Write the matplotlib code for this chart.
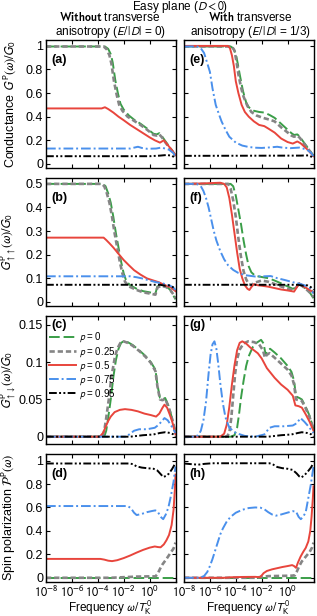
import numpy as np
import matplotlib
matplotlib.use("Agg")
import matplotlib.pyplot as plt

plt.rcParams['font.family'] = ['Liberation Sans', 'DejaVu Sans']
plt.rcParams['mathtext.fontset'] = 'stixsans'

# curves: (log10(omega/T_K^0), value)
# (a) conductance, E/|D| = 0
a_p0 = [(-8, 0.995), (-3.45, 0.995), (-3.2, 0.975), (-3.0, 0.93), (-2.85, 0.86), (-2.65, 0.71), (-2.45, 0.6),
        (-2.25, 0.51), (-2.0, 0.46), (-1.6, 0.41), (-1.2, 0.375), (-0.7, 0.34), (-0.2, 0.3), (0.3, 0.255),
        (0.55, 0.25), (0.75, 0.26), (0.95, 0.235), (1.2, 0.195), (1.5, 0.15), (1.8, 0.105), (2.0, 0.07)]
a_p25 = [(-8, 0.995), (-3.55, 0.995), (-3.3, 0.97), (-3.1, 0.92), (-2.95, 0.85), (-2.75, 0.7), (-2.55, 0.59),
         (-2.35, 0.5), (-2.1, 0.45), (-1.7, 0.4), (-1.2, 0.365), (-0.7, 0.33), (-0.2, 0.29), (0.3, 0.245),
         (0.55, 0.24), (0.75, 0.25), (0.95, 0.225), (1.2, 0.185), (1.5, 0.14), (1.8, 0.1), (2.0, 0.065)]
a_p50 = [(-8, 0.47), (-3.7, 0.47), (-3.45, 0.48), (-3.2, 0.465), (-2.8, 0.435), (-2.4, 0.4), (-2.0, 0.37),
         (-1.5, 0.33), (-1.0, 0.295), (-0.5, 0.26), (0, 0.225), (0.4, 0.2), (0.8, 0.18), (1.1, 0.2),
         (1.4, 0.16), (1.7, 0.12), (2.0, 0.075)]
a_p75 = [(-8, 0.13), (-1.5, 0.13), (-1.1, 0.14), (-0.9, 0.145), (-0.6, 0.135), (-0.2, 0.128), (0.5, 0.13),
         (0.9, 0.138), (1.2, 0.13), (1.5, 0.12), (1.8, 0.095), (2.0, 0.065)]
a_p95 = [(-8, 0.065), (0.0, 0.065), (0.8, 0.07), (1.3, 0.075), (1.7, 0.07), (2.0, 0.05)]

# (e) conductance, E/|D| = 1/3
e_p0 = [(-8, 0.995), (-4.4, 0.995), (-4.2, 0.98), (-4.0, 0.935), (-3.85, 0.85), (-3.7, 0.76), (-3.45, 0.62),
        (-3.2, 0.52), (-3.0, 0.48), (-2.6, 0.45), (-2.2, 0.44), (-1.8, 0.435), (-1.4, 0.415), (-1.0, 0.39),
        (-0.5, 0.34), (-0.1, 0.3), (0.3, 0.26), (0.5, 0.245), (0.75, 0.25), (0.95, 0.23), (1.2, 0.19),
        (1.5, 0.145), (1.8, 0.1), (2.0, 0.07)]
e_p25 = [(-8, 0.995), (-4.3, 0.995), (-4.1, 0.96), (-3.95, 0.87), (-3.8, 0.76), (-3.6, 0.65), (-3.4, 0.57),
         (-3.1, 0.49), (-2.8, 0.44), (-2.4, 0.41), (-1.9, 0.39), (-1.4, 0.375), (-1.0, 0.36), (-0.5, 0.31),
         (-0.1, 0.275), (0.3, 0.24), (0.5, 0.23), (0.75, 0.24), (0.95, 0.22), (1.2, 0.18), (1.5, 0.14),
         (1.8, 0.095), (2.0, 0.065)]
e_p50 = [(-8, 1.0), (-4.6, 1.0), (-4.45, 0.98), (-4.3, 0.92), (-4.15, 0.83), (-4.0, 0.7), (-3.8, 0.6),
         (-3.55, 0.5), (-3.3, 0.44), (-3.0, 0.4), (-2.6, 0.36), (-2.2, 0.33), (-1.8, 0.32), (-1.5, 0.3),
         (-1.0, 0.265), (-0.5, 0.215), (0.0, 0.185), (0.4, 0.172), (0.75, 0.19), (1.0, 0.175), (1.2, 0.155),
         (1.5, 0.125), (1.8, 0.09), (2.0, 0.065)]
e_p75 = [(-8, 0.995), (-7.0, 0.995), (-6.7, 0.98), (-6.45, 0.94), (-6.25, 0.87), (-6.0, 0.78), (-5.8, 0.64),
         (-5.55, 0.5), (-5.3, 0.42), (-5.1, 0.36), (-4.8, 0.29), (-4.5, 0.23), (-4.0, 0.18), (-3.5, 0.155),
         (-3.0, 0.143), (-2.5, 0.137), (-2.0, 0.135), (-1.3, 0.14), (-0.8, 0.145), (-0.4, 0.138), (0.2, 0.133),
         (0.9, 0.138), (1.2, 0.13), (1.5, 0.12), (1.8, 0.095), (2.0, 0.065)]
e_p95 = [(-8, 0.068), (1.0, 0.07), (1.6, 0.072), (1.85, 0.06), (2.0, 0.05)]

# (b) G_upup, E/|D| = 0
b_p0 = [(-8, 0.5), (-3.6, 0.5), (-3.4, 0.49), (-3.2, 0.46), (-3.0, 0.42), (-2.8, 0.36), (-2.6, 0.29),
        (-2.4, 0.23), (-2.2, 0.17), (-2.0, 0.12), (-1.8, 0.088), (-1.5, 0.07), (-1.0, 0.055), (-0.5, 0.045),
        (0.0, 0.04), (0.45, 0.035), (0.6, 0.065), (0.9, 0.07), (1.3, 0.065), (1.6, 0.05), (1.85, 0.025),
        (2.0, 0.01)]
b_p25 = [(-8, 0.5), (-3.7, 0.5), (-3.5, 0.49), (-3.3, 0.46), (-3.1, 0.42), (-2.9, 0.36), (-2.7, 0.29),
         (-2.5, 0.23), (-2.3, 0.17), (-2.1, 0.12), (-1.9, 0.085), (-1.6, 0.065), (-1.0, 0.05), (-0.5, 0.04),
         (0.0, 0.035), (0.45, 0.03), (0.6, 0.06), (0.9, 0.068), (1.3, 0.062), (1.6, 0.05), (1.85, 0.03),
         (2.0, 0.015)]
b_p50 = [(-8, 0.272), (-3.55, 0.272), (-3.35, 0.262), (-3.1, 0.248), (-2.8, 0.23), (-2.5, 0.21), (-2.2, 0.19),
         (-2.0, 0.177), (-1.6, 0.155), (-1.2, 0.134), (-0.7, 0.115), (-0.2, 0.099), (0.3, 0.09), (0.7, 0.083),
         (1.2, 0.07), (1.6, 0.062), (2.0, 0.045)]
b_p75 = [(-8, 0.108), (-1.5, 0.108), (-1.0, 0.104), (-0.5, 0.098), (0.0, 0.09), (0.5, 0.083), (1.0, 0.078),
         (1.5, 0.07), (1.8, 0.062), (2.0, 0.05)]
b_p95 = [(-8, 0.072), (0.8, 0.072), (1.2, 0.068), (1.5, 0.07), (1.8, 0.062), (2.0, 0.055)]

# (f) G_upup, E/|D| = 1/3
f_p0 = [(-8, 0.5), (-4.4, 0.5), (-4.2, 0.49), (-4.0, 0.45), (-3.8, 0.39), (-3.6, 0.33), (-3.4, 0.26),
        (-3.2, 0.2), (-3.0, 0.15), (-2.8, 0.125), (-2.5, 0.11), (-2.0, 0.105), (-1.5, 0.1), (-1.0, 0.09),
        (-0.5, 0.078), (0.0, 0.065), (0.4, 0.055), (0.65, 0.06), (0.9, 0.078), (1.1, 0.07), (1.4, 0.055),
        (1.7, 0.04), (2.0, 0.015)]
f_p25 = [(-8, 0.5), (-4.6, 0.5), (-4.4, 0.48), (-4.2, 0.43), (-4.0, 0.36), (-3.8, 0.27), (-3.6, 0.19),
         (-3.4, 0.13), (-3.2, 0.095), (-3.0, 0.075), (-2.8, 0.07), (-2.6, 0.08), (-2.3, 0.085), (-2.0, 0.09),
         (-1.5, 0.085), (-1.0, 0.075), (-0.5, 0.065), (0.0, 0.055), (0.4, 0.05), (0.65, 0.06), (0.9, 0.078),
         (1.1, 0.068), (1.4, 0.055), (1.7, 0.04), (2.0, 0.02)]
f_p50 = [(-8, 0.5), (-6.5, 0.502), (-5.2, 0.505), (-4.9, 0.5), (-4.7, 0.485), (-4.5, 0.44), (-4.3, 0.37),
         (-4.1, 0.29), (-3.9, 0.21), (-3.7, 0.14), (-3.5, 0.1), (-3.3, 0.07), (-3.1, 0.055), (-2.95, 0.05),
         (-2.8, 0.062), (-2.6, 0.075), (-2.3, 0.07), (-2.0, 0.068), (-1.5, 0.064), (-1.0, 0.058), (-0.5, 0.052),
         (0.0, 0.048), (0.5, 0.043), (0.75, 0.065), (0.9, 0.078), (1.1, 0.07), (1.4, 0.06), (1.7, 0.05),
         (2.0, 0.04)]
f_p75 = [(-8, 0.5), (-7.0, 0.5), (-6.7, 0.49), (-6.5, 0.47), (-6.3, 0.44), (-6.1, 0.4), (-5.9, 0.35),
         (-5.7, 0.3), (-5.5, 0.26), (-5.2, 0.215), (-4.9, 0.18), (-4.6, 0.155), (-4.2, 0.135), (-3.8, 0.122),
         (-3.3, 0.113), (-2.5, 0.107), (-1.8, 0.108), (-1.3, 0.109), (-0.8, 0.1), (-0.2, 0.092), (0.4, 0.083),
         (0.9, 0.077), (1.3, 0.07), (1.7, 0.06), (2.0, 0.035)]
f_p95 = [(-8, 0.072), (0.8, 0.072), (1.2, 0.068), (1.5, 0.07), (1.8, 0.062), (2.0, 0.05)]

# (c) G_updown, E/|D| = 0
c_p0 = [(-8, 0.0), (-3.5, 0.0), (-3.35, 0.008), (-3.2, 0.025), (-3.0, 0.05), (-2.8, 0.08), (-2.6, 0.103),
        (-2.4, 0.118), (-2.2, 0.126), (-2.0, 0.128), (-1.7, 0.127), (-1.3, 0.123), (-0.8, 0.116), (-0.3, 0.108),
        (0.1, 0.1), (0.45, 0.09), (0.6, 0.07), (0.8, 0.052), (1.0, 0.05), (1.2, 0.052), (1.5, 0.04),
        (1.8, 0.02), (2.0, 0.005)]
c_p25 = [(-8, 0.0), (-3.65, 0.0), (-3.5, 0.008), (-3.35, 0.025), (-3.15, 0.05), (-2.95, 0.08), (-2.7, 0.105),
         (-2.5, 0.118), (-2.25, 0.126), (-2.0, 0.128), (-1.7, 0.126), (-1.3, 0.122), (-0.8, 0.115),
         (-0.3, 0.107), (0.1, 0.099), (0.45, 0.088), (0.6, 0.068), (0.8, 0.05), (1.0, 0.049), (1.2, 0.051),
         (1.5, 0.038), (1.8, 0.02), (2.0, 0.005)]
c_p50 = [(-8, 0.0), (-3.85, 0.0), (-3.6, 0.005), (-3.4, 0.013), (-3.2, 0.021), (-3.0, 0.027), (-2.7, 0.033),
         (-2.3, 0.036), (-1.9, 0.037), (-1.4, 0.036), (-0.9, 0.034), (-0.4, 0.031), (0.1, 0.029), (0.5, 0.027),
         (0.75, 0.031), (1.0, 0.039), (1.15, 0.043), (1.35, 0.039), (1.55, 0.03), (1.75, 0.02), (2.0, 0.003)]
c_p75 = [(-8, 0.0), (-1.8, 0.0), (-1.5, 0.004), (-1.2, 0.008), (-0.8, 0.01), (-0.2, 0.01), (0.4, 0.012),
         (0.7, 0.016), (1.0, 0.022), (1.15, 0.025), (1.4, 0.022), (1.7, 0.014), (2.0, 0.005)]
c_p95 = [(-8, 0.0), (-1.5, 0.0), (-0.5, 0.002), (0.3, 0.003), (0.8, 0.005), (1.2, 0.006), (1.6, 0.005),
         (1.85, 0.003), (2.0, 0.0)]

# (g) G_updown, E/|D| = 1/3
g_p0 = [(-8, 0.0), (-4.4, 0.0), (-4.1, 0.002), (-3.9, 0.012), (-3.75, 0.03), (-3.6, 0.052), (-3.4, 0.075),
        (-3.2, 0.095), (-3.0, 0.108), (-2.7, 0.12), (-2.4, 0.126), (-2.05, 0.13), (-1.85, 0.125), (-1.7, 0.11),
        (-1.55, 0.116), (-1.35, 0.118), (-1.0, 0.113), (-0.5, 0.105), (0.0, 0.095), (0.3, 0.087), (0.5, 0.075),
        (0.65, 0.054), (0.9, 0.052), (1.1, 0.05), (1.4, 0.04), (1.7, 0.028), (2.0, 0.01)]
g_p25 = [(-8, 0.0), (-4.7, 0.0), (-4.5, 0.005), (-4.35, 0.025), (-4.2, 0.055), (-4.05, 0.085), (-3.9, 0.104),
         (-3.7, 0.117), (-3.4, 0.125), (-3.05, 0.128), (-2.6, 0.127), (-2.2, 0.124), (-1.9, 0.116),
         (-1.75, 0.106), (-1.6, 0.11), (-1.4, 0.112), (-1.0, 0.106), (-0.5, 0.098), (0.0, 0.09), (0.3, 0.082),
         (0.5, 0.07), (0.65, 0.05), (0.9, 0.049), (1.1, 0.048), (1.4, 0.038), (1.7, 0.026), (2.0, 0.01)]
g_p50 = [(-8, 0.0), (-5.2, 0.0), (-4.9, 0.004), (-4.7, 0.016), (-4.5, 0.04), (-4.3, 0.07), (-4.1, 0.096),
         (-3.9, 0.116), (-3.7, 0.126), (-3.5, 0.128), (-3.2, 0.125), (-2.9, 0.12), (-2.6, 0.116), (-2.3, 0.112),
         (-2.0, 0.105), (-1.6, 0.092), (-1.0, 0.079), (-0.5, 0.07), (0.0, 0.063), (0.4, 0.055), (0.6, 0.042),
         (0.85, 0.041), (1.1, 0.039), (1.4, 0.03), (1.7, 0.02), (2.0, 0.008)]
g_p75 = [(-8, 0.0), (-7.2, 0.0), (-6.9, 0.002), (-6.7, 0.008), (-6.5, 0.022), (-6.3, 0.047), (-6.1, 0.085),
         (-5.95, 0.11), (-5.8, 0.124), (-5.65, 0.128), (-5.5, 0.118), (-5.35, 0.097), (-5.2, 0.072),
         (-5.0, 0.045), (-4.8, 0.026), (-4.5, 0.012), (-4.0, 0.005), (-3.3, 0.001), (-2.5, 0.0), (-1.8, 0.003),
         (-1.4, 0.012), (-1.0, 0.014), (-0.3, 0.014), (0.4, 0.015), (0.7, 0.018), (1.0, 0.025), (1.3, 0.02),
         (1.6, 0.014), (2.0, 0.005)]
g_p95 = [(-8, 0.0), (-1.5, 0.0), (-0.5, 0.002), (0.3, 0.003), (0.8, 0.005), (1.1, 0.006), (1.5, 0.005),
         (1.85, 0.003), (2.0, 0.0)]

# (d) spin polarization, E/|D| = 0
d_p0 = [(-8, 0.0), (2.0, 0.0)]
d_p25 = [(-8, 0.0), (-3.0, 0.0), (-2.0, 0.005), (-1.0, 0.01), (0.0, 0.012), (0.45, 0.012), (0.6, 0.03),
         (0.8, 0.075), (1.0, 0.115), (1.3, 0.16), (1.6, 0.21), (1.85, 0.25), (2.0, 0.3)]
d_p50 = [(-8, 0.161), (-3.8, 0.161), (-3.5, 0.155), (-3.2, 0.146), (-2.9, 0.142), (-2.5, 0.15), (-2.0, 0.168),
         (-1.5, 0.19), (-1.0, 0.215), (-0.5, 0.238), (0.0, 0.257), (0.4, 0.267), (0.65, 0.262), (0.85, 0.26),
         (1.1, 0.285), (1.3, 0.32), (1.5, 0.365), (1.7, 0.45), (1.85, 0.58), (1.95, 0.75), (2.0, 0.88)]
d_p75 = [(-8, 0.612), (-1.7, 0.612), (-1.45, 0.595), (-1.2, 0.555), (-1.0, 0.535), (-0.6, 0.545), (-0.2, 0.56),
         (0.2, 0.57), (0.45, 0.575), (0.65, 0.56), (0.85, 0.52), (1.05, 0.5), (1.25, 0.54), (1.45, 0.6),
         (1.65, 0.7), (1.85, 0.82), (2.0, 0.95)]
d_p95 = [(-8, 0.975), (-1.6, 0.975), (-1.3, 0.97), (-1.0, 0.95), (-0.6, 0.94), (-0.2, 0.935), (0.3, 0.93),
         (0.6, 0.915), (0.85, 0.885), (1.05, 0.86), (1.3, 0.87), (1.5, 0.89), (1.75, 0.93), (2.0, 0.98)]

# (h) spin polarization, E/|D| = 1/3
h_p0 = [(-8, 0.0), (2.0, 0.0)]
h_p25 = [(-8, 0.0), (-2.5, 0.0), (-2.0, 0.008), (-1.5, 0.014), (-0.5, 0.016), (0.3, 0.018), (0.55, 0.02),
         (0.7, 0.05), (0.9, 0.1), (1.1, 0.14), (1.4, 0.18), (1.7, 0.22), (1.9, 0.26), (2.0, 0.3)]
h_p50 = [(-8, 0.0), (-4.8, 0.0), (-4.4, 0.004), (-3.5, 0.007), (-2.5, 0.008), (-2.15, 0.005), (-2.0, 0.02),
         (-1.85, 0.04), (-1.6, 0.058), (-1.2, 0.072), (-0.8, 0.082), (-0.4, 0.092), (0.0, 0.1), (0.35, 0.108),
         (0.5, 0.1), (0.65, 0.085), (0.8, 0.13), (1.0, 0.18), (1.2, 0.22), (1.4, 0.255), (1.6, 0.31),
         (1.75, 0.4), (1.85, 0.52), (1.95, 0.68), (2.0, 0.78)]
h_p75 = [(-8, 0.0), (-7.0, 0.0), (-6.7, 0.004), (-6.45, 0.015), (-6.2, 0.05), (-6.0, 0.1), (-5.8, 0.16),
         (-5.6, 0.23), (-5.4, 0.3), (-5.2, 0.37), (-5.0, 0.42), (-4.7, 0.48), (-4.4, 0.52), (-4.0, 0.555),
         (-3.5, 0.58), (-3.0, 0.595), (-2.5, 0.6), (-2.1, 0.598), (-1.8, 0.585), (-1.5, 0.56), (-1.2, 0.54),
         (-0.9, 0.53), (-0.5, 0.54), (0.0, 0.556), (0.4, 0.568), (0.65, 0.565), (0.85, 0.52), (1.02, 0.5),
         (1.2, 0.52), (1.4, 0.56), (1.6, 0.68), (1.8, 0.8), (2.0, 0.95)]
h_p95 = [(-8, 0.975), (-7.3, 0.968), (-6.9, 0.965), (-6.4, 0.972), (-5.8, 0.977), (-1.4, 0.977), (-1.1, 0.965),
         (-0.8, 0.945), (-0.4, 0.935), (0.0, 0.93), (0.4, 0.92), (0.7, 0.89), (0.9, 0.865), (1.05, 0.855),
         (1.3, 0.875), (1.55, 0.905), (1.8, 0.94), (2.0, 0.98)]

p_labels = ["0", "0.25", "0.5", "0.75", "0.95"]
panel_letters = ["a", "e", "b", "f", "c", "g", "d", "h"]

styles = [
    dict(color="#3a9e48", lw=1.4, dashes=(5.5, 2.0)),
    dict(color="#858585", lw=1.9, dashes=(2.0, 1.1)),
    dict(color="#e8453c", lw=1.4),
    dict(color="#4a90ec", lw=1.4, dashes=(5.0, 1.5, 1.0, 1.5)),
    dict(color="black", lw=1.4, dashes=(4.0, 1.2, 1.0, 1.2, 1.0, 1.2)),
]

curves = [
    [a_p0, a_p25, a_p50, a_p75, a_p95], [e_p0, e_p25, e_p50, e_p75, e_p95],
    [b_p0, b_p25, b_p50, b_p75, b_p95], [f_p0, f_p25, f_p50, f_p75, f_p95],
    [c_p0, c_p25, c_p50, c_p75, c_p95], [g_p0, g_p25, g_p50, g_p75, g_p95],
    [d_p0, d_p25, d_p50, d_p75, d_p95], [h_p0, h_p25, h_p50, h_p75, h_p95],
]

ylims = [(-0.035, 1.05), (-0.018, 0.525), (-0.0098, 0.162), (-0.036, 1.056)]
yticks = [[0, 0.2, 0.4, 0.6, 0.8, 1], [0, 0.1, 0.2, 0.3, 0.4, 0.5], [0, 0.05, 0.1, 0.15], [0, 0.2, 0.4, 0.6, 0.8, 1]]
yticklabels = [["0", "0.2", "0.4", "0.6", "0.8", "1"], ["0", "0.1", "0.2", "0.3", "0.4", "0.5"],
               ["0", "0.05", "0.1", "0.15"], ["0", "0.2", "0.4", "0.6", "0.8", "1"]]
ylabels = [r"Conductance $G^{\mathrm{P}}(\omega)/G_0$", r"$G^{\mathrm{P}}_{\uparrow\uparrow}(\omega)/G_0$",
           r"$G^{\mathrm{P}}_{\uparrow\downarrow}(\omega)/G_0$", r"Spin polarization $\mathcal{P}^{\mathrm{P}}(\omega)$"]

W, H = 317, 616
fig = plt.figure(figsize=(W / 100, H / 100), dpi=100)

col_x = [46, 184]
col_w = 129.5
row_top = [40, 178, 316, 454]
row_h = 128
fs = 9

for r in range(4):
    for c in range(2):
        k = 2 * r + c
        ax = fig.add_axes([col_x[c] / W, 1 - (row_top[r] + row_h) / H, col_w / W, row_h / H])
        for pts, st, lab in zip(curves[k], styles, p_labels):
            lx, y = np.array(pts).T
            ax.plot(10.0 ** lx, y, label=r"$p$ = " + lab, **st)
        ax.set_xscale("log")
        ax.set_xlim(1e-8, 1e2)
        ax.set_ylim(*ylims[r])
        ax.set_xticks([1e-8, 1e-6, 1e-4, 1e-2, 1e0, 1e2])
        ax.xaxis.set_minor_locator(matplotlib.ticker.NullLocator())
        ax.set_yticks(yticks[r])
        ax.tick_params(direction="in", top=True, right=True, length=3, width=0.8, labelsize=fs, pad=2)
        for s in ax.spines.values():
            s.set_linewidth(1.0)
        if r == 3:
            ax.set_xticklabels([r"$10^{-8}$", r"$10^{-6}$", r"$10^{-4}$", r"$10^{-2}$", r"$10^{0}$", ""])
            ax.set_xlabel(r"Frequency $\omega/T_{\mathrm{K}}^{0}$", fontsize=8.5, labelpad=-1)
        else:
            ax.set_xticklabels([])
        if c == 0:
            ax.set_yticklabels(yticklabels[r])
            ax.set_ylabel(ylabels[r], fontsize=fs)
            ax.yaxis.set_label_coords(-0.215, 0.5)
        else:
            ax.set_yticklabels([])
        ly = 0.93 if r == 2 else 0.84
        ax.text(0.04, ly, "(%s)" % panel_letters[k], transform=ax.transAxes, fontsize=fs,
                fontweight="bold", ha="left", va="center")
        if k == 4:
            ax.legend(loc="upper left", bbox_to_anchor=(-0.02, 0.93), frameon=False, fontsize=7,
                      handlelength=2.8, labelspacing=0.05, handletextpad=0.3, borderaxespad=0.2)

fig.text(180 / W, 1 - 7 / H, r"Easy plane ($D<0$)", ha="center", va="center", fontsize=8.5)
fig.text(110 / W, 1 - 17.5 / H, r"$\mathbf{Without}$ transverse", ha="center", va="center", fontsize=8.5)
fig.text(110 / W, 1 - 31.5 / H, r"anisotropy ($E/\,|D|$ = 0)", ha="center", va="center", fontsize=8.5)
fig.text(250 / W, 1 - 17.5 / H, r"$\mathbf{With}$ transverse", ha="center", va="center", fontsize=8.5)
fig.text(250 / W, 1 - 31.5 / H, r"anisotropy ($E/\,|D|$ = 1/3)", ha="center", va="center", fontsize=8.5)

fig.savefig("out.png", dpi=100)
